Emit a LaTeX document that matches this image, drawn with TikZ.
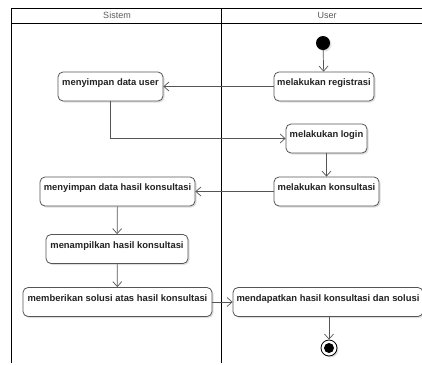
\documentclass[tikz,border=0pt]{standalone}
\usepackage{fontspec}
\setmainfont{Liberation Sans}
\usetikzlibrary{arrows.meta,shadows}
\definecolor{boxline}{HTML}{555555}
\definecolor{txt}{HTML}{222222}
\tikzset{
  act/.style={draw=boxline, line width=0.8pt, rounded corners=5pt, fill=white,
    minimum height=29pt, inner ysep=0pt, inner xsep=0pt,
    text height=13.5pt, text depth=15.5pt, text=txt,
    font=\fontsize{9.4}{10}\selectfont\bfseries,
    drop shadow={shadow xshift=1.5pt, shadow yshift=-1.5pt, opacity=0.25}},
  flow/.style={draw=boxline, line width=0.7pt, -{Straight Barb[length=5pt,width=9pt]}},
  lane/.style={draw=black, line width=1pt},
  hdr/.style={text=black!65, font=\fontsize{9}{10}\selectfont}
}
\begin{document}
\begin{tikzpicture}[x=1pt,y=-1pt]
\useasboundingbox (0,0) rectangle (422,364);
% swimlanes
\draw[lane] (11,363) -- (11,8) -- (430,8);
\draw[lane] (11,23) -- (430,23);
\draw[lane] (221,8) -- (221,363);
\node[hdr] (hs) at (117,15.5) {Sistem};
\node[hdr] (hu) at (327,15.5) {User};
% nodes
\node[circle, fill=black, minimum size=14pt, inner sep=0pt,
  drop shadow={shadow xshift=1.5pt, shadow yshift=-1.5pt, opacity=0.25}] (start) at (323,43) {};
\node[act, minimum width=105pt] (msd) at (110.5,86.5) {menyimpan data user};
\node[act, minimum width=100pt] (reg) at (324,86.5) {melakukan registrasi};
\node[act, minimum width=81pt] (login) at (326.5,138.5) {melakukan login};
\node[act, minimum width=105pt] (kons) at (326.5,191.5) {melakukan konsultasi};
\node[act, minimum width=155pt] (mdh) at (117.5,191.5) {menyimpan data hasil konsultasi};
\node[act, minimum width=142pt] (tampil) at (117,249) {menampilkan hasil konsultasi};
\node[act, minimum width=189pt] (sol) at (117.5,302) {memberikan solusi atas hasil konsultasi};
\node[act, minimum width=190pt] (dapat) at (328,302) {mendapatkan hasil konsultasi dan solusi};
\node[circle, draw=black, line width=0.8pt, fill=white, minimum size=16pt, inner sep=0pt,
  drop shadow={shadow xshift=1.5pt, shadow yshift=-1.5pt, opacity=0.25}] (end) at (329,348) {};
\node[circle, fill=black, minimum size=10pt, inner sep=0pt] (endin) at (end.center) {};
% flows
\draw[flow] (start) -- (reg);
\draw[flow] (reg) -- (msd);
\draw[flow] (msd.south) |- (login.west);
\draw[flow] (login) -- (kons);
\draw[flow] (kons) -- (mdh);
\draw[flow] (mdh) -- (tampil);
\draw[flow] (tampil) -- (sol);
\draw[flow] (sol) -- (dapat);
\draw[flow] (dapat.south -| end) -- (end);
\end{tikzpicture}
\end{document}
